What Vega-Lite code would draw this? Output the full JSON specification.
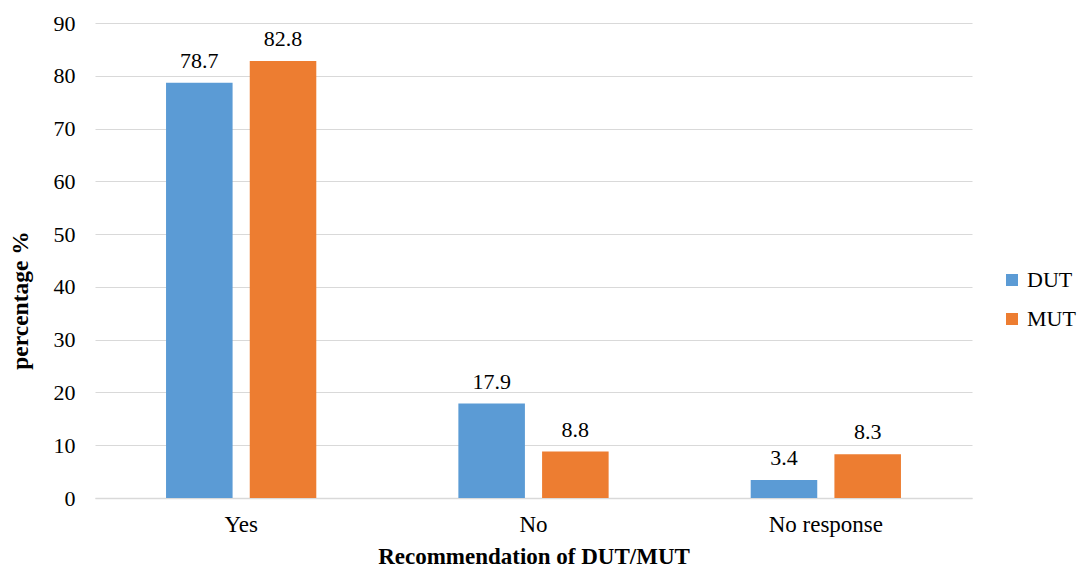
{
  "$schema": "https://vega.github.io/schema/vega-lite/v6.json",
  "autosize": "none",
  "width": 877,
  "height": 475,
  "padding": {"left": 95, "top": 23, "right": 109, "bottom": 72},
  "background": "white",
  "config": {
    "font": "Liberation Serif",
    "axis": {"labelFont": "Liberation Serif", "titleFont": "Liberation Serif"},
    "legend": {"labelFont": "Liberation Serif"},
    "text": {"font": "Liberation Serif"},
    "view": {"stroke": null}
  },
  "data": {
    "values": [
      {"cat": "Yes", "group": "DUT", "value": 78.7},
      {"cat": "Yes", "group": "MUT", "value": 82.8},
      {"cat": "No", "group": "DUT", "value": 17.9},
      {"cat": "No", "group": "MUT", "value": 8.8},
      {"cat": "No response", "group": "DUT", "value": 3.4},
      {"cat": "No response", "group": "MUT", "value": 8.3}
    ]
  },
  "encoding": {
    "x": {
      "field": "cat", "type": "nominal", "sort": ["Yes", "No", "No response"],
      "scale": {"paddingInner": 0.486, "paddingOuter": 0.243},
      "axis": {
        "title": "Recommendation of DUT/MUT", "titleFontSize": 23, "titleFontWeight": "bold", "titleColor": "black",
        "titleFont": "Liberation Serif", "titlePadding": 9,
        "labelAngle": 0, "labelFontSize": 23, "labelColor": "black", "labelPadding": 15, "labelFont": "Liberation Serif",
        "ticks": false, "domainColor": "#d9d9d9", "domainWidth": 1.5
      }
    },
    "xOffset": {"field": "group", "type": "nominal", "scale": {"paddingInner": 0.205}},
    "y": {
      "field": "value", "type": "quantitative",
      "scale": {"domain": [0, 90]},
      "axis": {
        "title": "percentage %", "titleFontSize": 23.5, "titleFontWeight": "bold", "titleColor": "black",
        "titleFont": "Liberation Serif", "titleAngle": -90, "titleX": -75, "titleY": 277,
        "titleAlign": "center", "titleBaseline": "middle",
        "values": [0, 10, 20, 30, 40, 50, 60, 70, 80, 90],
        "labelFontSize": 22, "labelColor": "black", "labelPadding": 20, "labelFont": "Liberation Serif",
        "ticks": false, "domain": false, "gridColor": "#d9d9d9", "gridWidth": 1.2
      }
    },
    "color": {
      "field": "group", "type": "nominal",
      "scale": {"domain": ["DUT", "MUT"], "range": ["#5B9BD5", "#ED7D31"]},
      "legend": {
        "title": null, "orient": "none", "legendX": 906, "legendY": 246,
        "symbolType": "square", "symbolSize": 144, "symbolStrokeWidth": 0,
        "labelFontSize": 22, "labelColor": "black", "labelFont": "Liberation Serif", "rowPadding": 17, "labelOffset": 4
      }
    }
  },
  "layer": [
    {"mark": {"type": "bar"}},
    {
      "mark": {"type": "text", "dy": -15, "fontSize": 22, "font": "Liberation Serif", "color": "black", "baseline": "alphabetic"},
      "encoding": {"text": {"field": "value", "type": "quantitative", "format": ".1f"}, "color": {"value": "black"}}
    }
  ]
}
